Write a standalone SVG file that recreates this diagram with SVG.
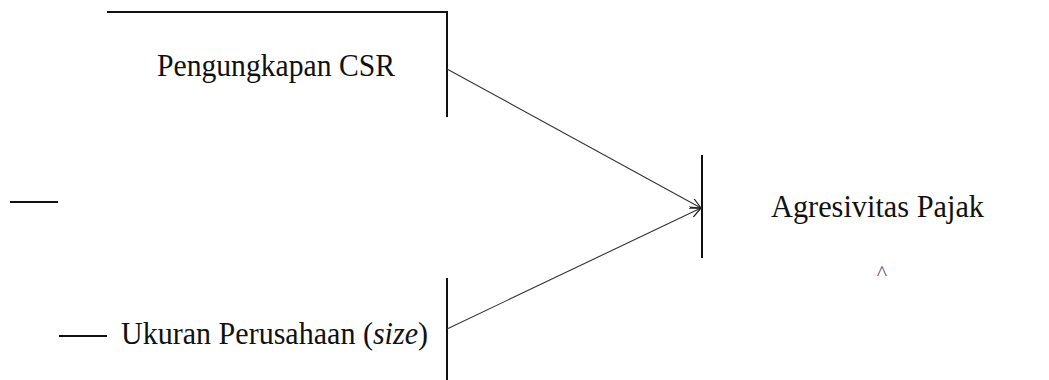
<svg xmlns="http://www.w3.org/2000/svg" width="1049" height="380" viewBox="0 0 1049 380">
<defs>
<marker id="arr" viewBox="0 0 12 10" refX="11" refY="5" markerWidth="12" markerHeight="10" markerUnits="userSpaceOnUse" orient="auto">
<path d="M0,0 L11,5 L0,10" fill="none" stroke="#222" stroke-width="1.2"/>
</marker>
<style>
.frame{stroke:#111;stroke-width:2;fill:none}
.conn{stroke:#333;stroke-width:1.1;fill:none}
.lbl{font-family:"Liberation Serif","Times New Roman",serif;font-size:31px;fill:#111}
</style>
</defs>
<rect width="1049" height="380" fill="#fff"/>
<g id="csr">
<path class="frame" d="M107,12 H447 V117"/>
<text class="lbl" x="157" y="76" textLength="238" lengthAdjust="spacingAndGlyphs">Pengungkapan CSR</text>
</g>
<g id="mid-dash">
<line class="frame" x1="10" y1="202" x2="58" y2="202"/>
</g>
<g id="size">
<line class="frame" x1="59" y1="336" x2="107" y2="336"/>
<path class="frame" d="M447,278 V380"/>
<text class="lbl" x="121" y="344" textLength="307" lengthAdjust="spacingAndGlyphs">Ukuran Perusahaan (<tspan font-style="italic">size</tspan>)</text>
</g>
<g id="agresivitas">
<path class="frame" d="M702,155 V258"/>
<text class="lbl" x="771" y="217" textLength="213" lengthAdjust="spacingAndGlyphs">Agresivitas Pajak</text>
<text x="882" y="280" font-family="Liberation Serif, serif" font-size="22" fill="#555" text-anchor="middle">^</text>
</g>
<g id="connectors">
<line class="conn" x1="447" y1="69" x2="701" y2="208" marker-end="url(#arr)"/>
<line class="conn" x1="447" y1="329" x2="701" y2="208" marker-end="url(#arr)"/>
</g>
</svg>
